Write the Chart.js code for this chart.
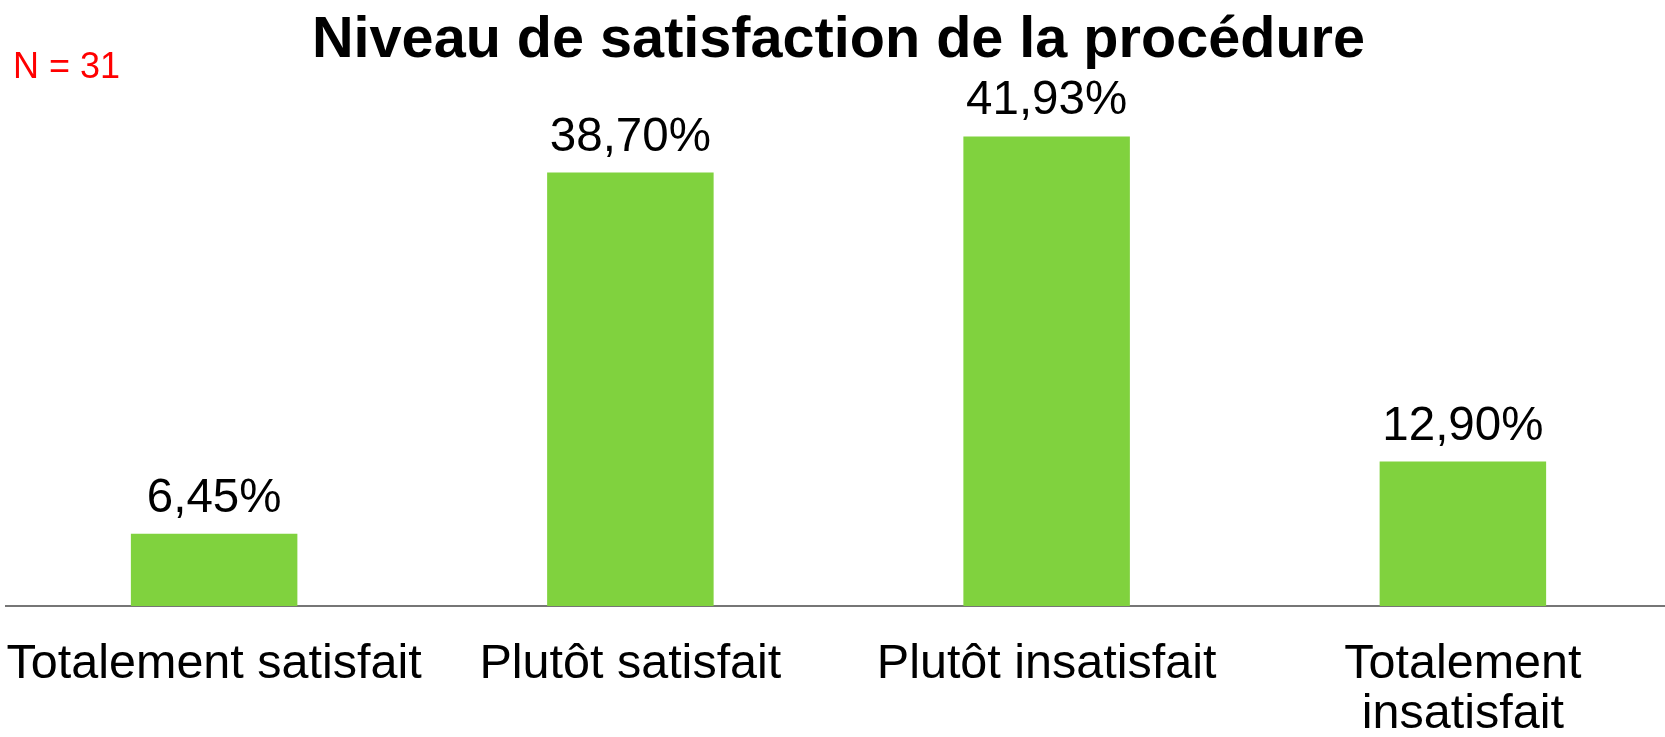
<!DOCTYPE html>
<html lang="fr">
<head>
<meta charset="utf-8">
<title>Niveau de satisfaction de la procédure</title>
<script src="https://cdn.jsdelivr.net/npm/chart.js@4.4.1/dist/chart.umd.min.js"></script>
<style>
  html, body { margin: 0; padding: 0; background: #fff; overflow: hidden; }
  /* the axis runs past the right edge in the original, so the canvas is a little wider than the window */
  #wrap { width: 1671px; height: 737px; position: relative; }
</style>
</head>
<body>
<div id="wrap"><canvas id="myChart"></canvas></div>
<script>
const categories = [
    'Totalement satisfait',
    'Plutôt satisfait',
    'Plutôt insatisfait',
    ['Totalement', 'insatisfait']
]
const values = [6.45, 38.70, 41.93, 12.90]
const sampleSize = 31
const chartTitle = 'Niveau de satisfaction de la procédure'

const FONT = "'Liberation Sans', Arial, Helvetica, sans-serif"
const GREEN = '#80d23e'

function toPercent(v) {
    return v.toFixed(2).replace('.', ',') + '%'
}

// value labels above bars + "N = 31" note
const labelsPlugin = {
    id: 'barLabels',
    afterDatasetsDraw(chart) {
        const ctx = chart.ctx
        const meta = chart.getDatasetMeta(0)
        ctx.save()
        ctx.font = '47.5px ' + FONT
        ctx.fillStyle = '#000'
        ctx.textAlign = 'center'
        ctx.textBaseline = 'alphabetic'
        meta.data.forEach((bar, i) => {
            ctx.fillText(toPercent(values[i]), bar.x, bar.y - 22)
        })
        ctx.restore()
    },
    afterDraw(chart) {
        const ctx = chart.ctx
        ctx.save()
        ctx.font = '36px ' + FONT
        ctx.fillStyle = '#ff0000'
        ctx.textAlign = 'left'
        ctx.textBaseline = 'alphabetic'
        ctx.fillText('N = ' + sampleSize, 13, 78)
        ctx.restore()
    }
}

const ctx = document.getElementById('myChart')

new Chart(ctx, {
    type: 'bar',
    data: {
        labels: categories,
        datasets: [{
            data: values,
            backgroundColor: GREEN,
            borderWidth: 0,
            barPercentage: 0.4,
            categoryPercentage: 1
        }]
    },
    options: {
        responsive: true,
        maintainAspectRatio: false,
        animation: false,
        layout: {
            padding: { left: 6, right: 0, top: 0, bottom: 0 }
        },
        plugins: {
            legend: { display: false },
            tooltip: { enabled: false },
            title: {
                display: true,
                text: chartTitle,
                color: '#000',
                font: { family: FONT, size: 57.6, weight: 'bold', lineHeight: 1.2 },
                padding: { top: 7, bottom: 0 }
            }
        },
        scales: {
            x: {
                grid: { display: false, drawTicks: false },
                border: { display: true, color: '#767676', width: 2 },
                ticks: {
                    color: '#000',
                    font: { family: FONT, size: 48.5, lineHeight: 1.03 },
                    padding: 34,
                    maxRotation: 0,
                    minRotation: 0,
                    autoSkip: false
                },
                afterFit(scale) {
                    scale.height = 131
                    scale.paddingLeft = 0
                    scale.paddingRight = 0
                }
            },
            y: {
                display: false,
                min: 0,
                max: 47.31
            }
        }
    },
    plugins: [labelsPlugin]
})
</script>
</body>
</html>
